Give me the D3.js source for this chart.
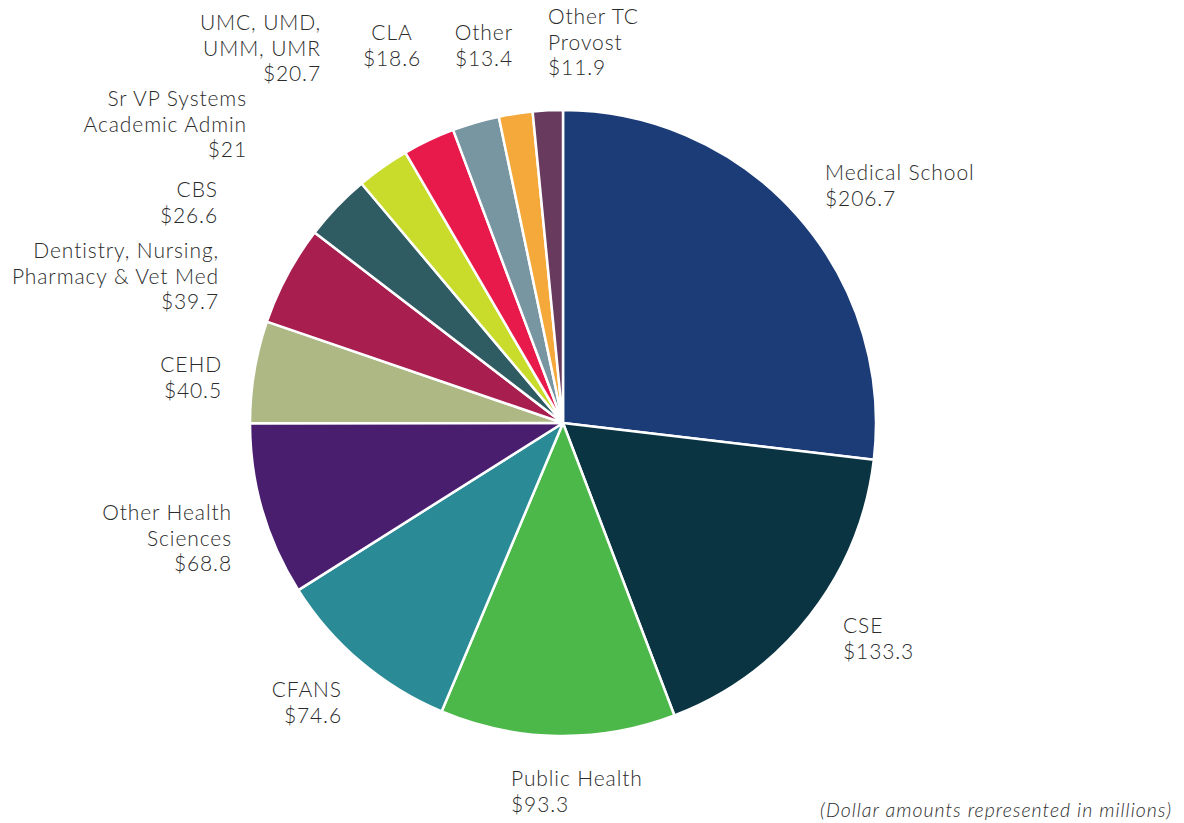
<!DOCTYPE html>
<html>
<head>
<meta charset="utf-8">
<script src="https://cdn.jsdelivr.net/npm/d3@7"></script>
<style>
  body { margin: 0; background: #fff; }
  svg text { font-family: Lato, "Open Sans", sans-serif; fill: #2b2b2b; font-weight: 300; }
</style>
</head>
<body>
<div id="pie-container"></div>
<script>
// categories, in clockwise order from 12 o'clock
var categories = ["Medical School", "CSE", "Public Health", "CFANS", "Other Health Sciences",
  "CEHD", "Dentistry, Nursing, Pharmacy & Vet Med", "CBS", "Sr VP Systems Academic Admin",
  "UMC, UMD, UMM, UMR", "CLA", "Other", "Other TC Provost"];

// dollar amounts (millions)
var values = [206.7, 133.3, 93.3, 74.6, 68.8, 40.5, 39.7, 26.6, 21, 20.7, 18.6, 13.4, 11.9];

// how each label is broken into lines
var labelLines = [
  ["Medical School"], ["CSE"], ["Public Health"], ["CFANS"], ["Other Health", "Sciences"],
  ["CEHD"], ["Dentistry, Nursing,", "Pharmacy & Vet Med"], ["CBS"], ["Sr VP Systems", "Academic Admin"],
  ["UMC, UMD,", "UMM, UMR"], ["CLA"], ["Other"], ["Other TC", "Provost"]
];

var colors = ["#1c3c78", "#0b3443", "#4db84a", "#2a8b96", "#4a1e6f", "#adb885", "#a81f4f",
  "#2f5b62", "#c9dc2b", "#e8194b", "#7895a2", "#f6a93b", "#673a5e"];

// hand placed label anchors (first line baseline)
var labelPos = [
  {x: 825, y: 180, a: "start"}, {x: 843, y: 633, a: "start"}, {x: 511, y: 786, a: "start"},
  {x: 342, y: 697, a: "end"},   {x: 232, y: 520, a: "end"},   {x: 222, y: 372, a: "end"},
  {x: 219, y: 258, a: "end"},   {x: 218, y: 197, a: "end"},   {x: 247, y: 106, a: "end"},
  {x: 321, y: 30,  a: "end"},   {x: 392, y: 40,  a: "middle"}, {x: 513, y: 40, a: "end"},
  {x: 548, y: 24,  a: "start"}
];

var width = 1184, height = 823;
var cx = 563, cy = 423, radius = 313, lineH = 25.5;

var svg = d3.select("#pie-container")
  .append("svg")
    .attr("width", width)
    .attr("height", height);

var data = categories.map(function(c, i) { return {name: c, value: values[i], i: i}; });

var pie = d3.pie()
    .value(function(d) { return d.value; })
    .sort(null);

var arc = d3.arc()
    .innerRadius(0)
    .outerRadius(radius);

var g = svg.append("g")
    .attr("transform", "translate(" + cx + "," + cy + ")");

g.selectAll("path")
  .data(pie(data))
  .join("path")
    .attr("d", arc)
    .attr("fill", function(d) { return colors[d.data.i]; })
    .attr("stroke", "#fff")
    .attr("stroke-width", 2.5)
    .attr("stroke-linejoin", "round");

// labels
var lab = svg.selectAll(".label")
  .data(data)
  .join("text")
    .attr("class", "label")
    .attr("font-size", 21)
    .attr("letter-spacing", 0.9)
    .attr("text-anchor", function(d) { return labelPos[d.i].a; });

lab.each(function(d) {
  var t = d3.select(this);
  var p = labelPos[d.i];
  var lines = labelLines[d.i].concat(["$" + d.value]);
  lines.forEach(function(l, k) {
    t.append("tspan")
      .attr("x", p.x)
      .attr("y", p.y + k * lineH)
      .text(l);
  });
});

svg.append("text")
    .attr("x", 1172)
    .attr("y", 817)
    .attr("text-anchor", "end")
    .attr("font-size", 19.5)
    .attr("letter-spacing", 1)
    .attr("font-style", "italic")
    .text("(Dollar amounts represented in millions)");
</script>
</body>
</html>
